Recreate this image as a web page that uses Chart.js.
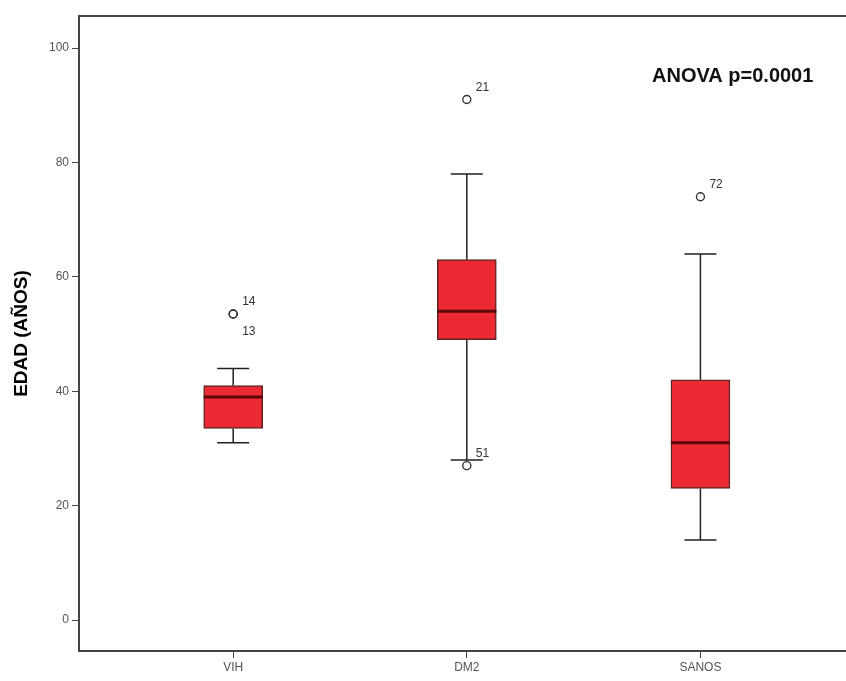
<!DOCTYPE html>
<html>
<head>
<meta charset="utf-8">
<script src="https://cdn.jsdelivr.net/npm/chart.js@4.4.1/dist/chart.umd.min.js"></script>
<style>
  html, body { margin: 0; padding: 0; background: #fff; }
  #wrap { width: 846px; height: 681px; }
</style>
</head>
<body>
<div id="wrap"><canvas id="edadChart" width="846" height="681"></canvas></div>
<script>
// datos del diagrama de cajas
const categories = ['VIH', 'DM2', 'SANOS'];
const whiskerLow = [31, 28, 14];
const q1 = [33.5, 49, 23];
const median = [39, 54, 31];
const q3 = [41, 63, 42];
const whiskerHigh = [44, 78, 64];

// valores atípicos (grupo, valor, caso)
const outlierGroup = [0, 0, 1, 1, 2];
const outlierValue = [53.5, 53.5, 91, 27, 74];
const outlierCase = ['14', '13', '21', '51', '72'];

const yTicks = [0, 20, 40, 60, 80, 100];

// bigotes, medianas, etiquetas y marco
const boxPlugin = {
    id: 'boxPlugin',
    afterDatasetsDraw(chart) {
        const ctx = chart.ctx;
        const x = chart.scales.x;
        const y = chart.scales.y;
        const bars = chart.getDatasetMeta(0).data;
        const area = chart.chartArea;

        ctx.save();
        // marco superior e inferior hasta el borde
        ctx.strokeStyle = '#444';
        ctx.lineWidth = 2;
        ctx.beginPath();
        ctx.moveTo(area.left, area.top);
        ctx.lineTo(chart.width, area.top);
        ctx.moveTo(area.right - 2, Math.round(area.bottom));
        ctx.lineTo(chart.width, Math.round(area.bottom));
        ctx.stroke();

        categories.forEach(function(c, i) {
            const px = x.getPixelForValue(i);
            const cap = 16;
            ctx.strokeStyle = '#222';
            ctx.lineWidth = 1.5;
            ctx.beginPath();
            ctx.moveTo(px, y.getPixelForValue(q3[i]));
            ctx.lineTo(px, y.getPixelForValue(whiskerHigh[i]));
            ctx.moveTo(px - cap, y.getPixelForValue(whiskerHigh[i]));
            ctx.lineTo(px + cap, y.getPixelForValue(whiskerHigh[i]));
            ctx.moveTo(px, y.getPixelForValue(q1[i]));
            ctx.lineTo(px, y.getPixelForValue(whiskerLow[i]));
            ctx.moveTo(px - cap, y.getPixelForValue(whiskerLow[i]));
            ctx.lineTo(px + cap, y.getPixelForValue(whiskerLow[i]));
            ctx.stroke();

            // mediana
            const half = bars[i].width / 2;
            ctx.strokeStyle = '#5a0808';
            ctx.lineWidth = 3;
            ctx.beginPath();
            ctx.moveTo(px - half, y.getPixelForValue(median[i]));
            ctx.lineTo(px + half, y.getPixelForValue(median[i]));
            ctx.stroke();
        });

        // números de caso
        ctx.fillStyle = '#333';
        ctx.font = '12px "Liberation Sans", Arial, sans-serif';
        ctx.textAlign = 'left';
        ctx.textBaseline = 'middle';
        const seen = {};
        outlierValue.forEach(function(v, i) {
            const key = outlierGroup[i] + '_' + v;
            const px = x.getPixelForValue(outlierGroup[i]);
            const py = y.getPixelForValue(v);
            if (seen[key]) {
                ctx.fillText(outlierCase[i], px + 9, py + 18);
            } else {
                ctx.fillText(outlierCase[i], px + 9, py - 12);
            }
            seen[key] = true;
        });

        // texto ANOVA
        ctx.fillStyle = '#111';
        ctx.font = 'bold 20px "Liberation Sans", Arial, sans-serif';
        ctx.textBaseline = 'alphabetic';
        ctx.fillText('ANOVA p=0.0001', area.left + 573, 82);
        ctx.restore();
    }
};

const ctx = document.getElementById('edadChart').getContext('2d');
new Chart(ctx, {
    type: 'bar',
    data: {
        datasets: [{
            label: 'Caja',
            data: categories.map(function(c, i) { return { x: i, y: [q1[i], q3[i]] }; }),
            backgroundColor: '#ec2a33',
            borderColor: '#5e2424',
            borderWidth: 1.5,
            borderSkipped: false,
            barThickness: 59
        }, {
            type: 'scatter',
            label: 'Atípicos',
            data: outlierValue.map(function(v, i) { return { x: outlierGroup[i], y: v }; }),
            pointRadius: 4,
            pointBackgroundColor: 'rgba(255,255,255,0)',
            pointBorderColor: '#333',
            pointBorderWidth: 1.4
        }]
    },
    options: {
        responsive: false,
        animation: false,
        layout: { padding: { top: 16, right: 0, left: 0, bottom: 0 } },
        plugins: {
            legend: { display: false },
            tooltip: { enabled: false }
        },
        scales: {
            x: {
                type: 'linear',
                offset: false,
                min: -0.66,
                max: 2.60,
                afterBuildTicks: function(scale) {
                    scale.ticks = categories.map(function(c, i) { return { value: i }; });
                },
                afterFit: function(scale) { scale.height = 30; },
                ticks: {
                    callback: function(v) { return categories[v]; },
                    color: '#555',
                    font: { size: 12, family: '"Liberation Sans", Arial, sans-serif' },
                    padding: 2
                },
                grid: { offset: false, drawOnChartArea: false, drawTicks: true, tickLength: 7, tickColor: '#444' },
                border: { color: '#444', width: 2 }
            },
            y: {
                min: -5.4,
                max: 105.6,
                afterBuildTicks: function(scale) {
                    scale.ticks = yTicks.map(function(v) { return { value: v }; });
                },
                afterFit: function(scale) { scale.width = 79; },
                ticks: {
                    color: '#555',
                    font: { size: 12, family: '"Liberation Sans", Arial, sans-serif' },
                    padding: 3
                },
                grid: { drawOnChartArea: false, drawTicks: true, tickLength: 7, tickColor: '#444' },
                border: { color: '#444', width: 2 },
                title: {
                    display: true,
                    text: 'EDAD (AÑOS)',
                    color: '#000',
                    font: { size: 19, weight: 'bold', family: '"Liberation Sans", Arial, sans-serif' },
                    padding: { top: 10, bottom: 0 }
                }
            }
        }
    },
    plugins: [boxPlugin]
});
</script>
</body>
</html>
